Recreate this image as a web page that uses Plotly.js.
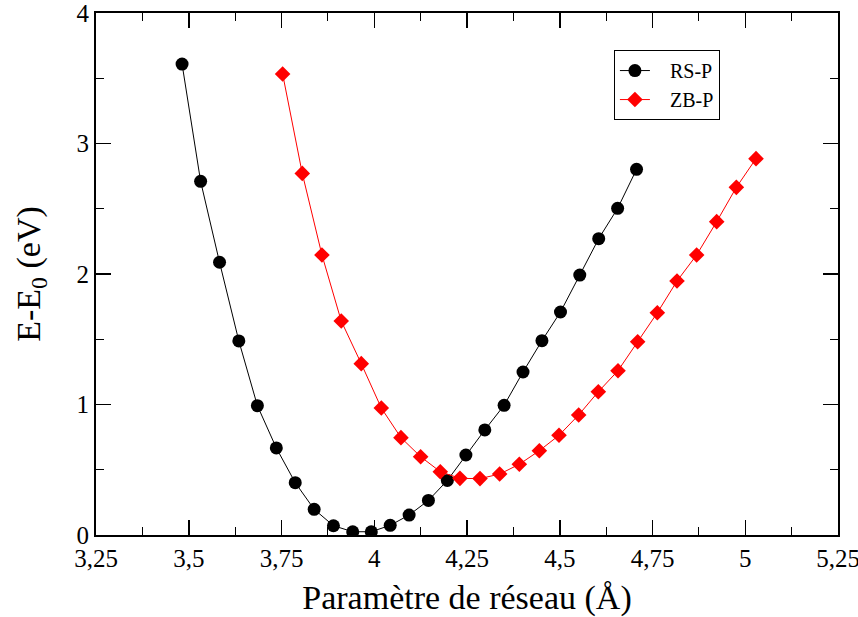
<!DOCTYPE html>
<html>
<head>
<meta charset="utf-8">
<script src="https://cdn.plot.ly/plotly-3.0.1.min.js"></script>
<style>html,body{margin:0;padding:0;background:#fff;}#chart{width:858px;height:617px;}</style>
</head>
<body>
<div id="chart"></div>
<script>
// RS-P (black circles)
const rsX = [3.482, 3.532, 3.583, 3.635, 3.685, 3.736, 3.787, 3.838, 3.890, 3.942, 3.992, 4.043, 4.094, 4.146, 4.197, 4.247, 4.298, 4.350, 4.401, 4.452, 4.502, 4.554, 4.605, 4.656, 4.707];
const rsY = [3.609, 2.710, 2.090, 1.487, 0.991, 0.667, 0.401, 0.197, 0.071, 0.025, 0.025, 0.074, 0.153, 0.265, 0.418, 0.613, 0.805, 0.994, 1.249, 1.489, 1.709, 1.992, 2.271, 2.503, 2.802];
// ZB-P (red diamonds)
const zbX = [3.753, 3.806, 3.859, 3.911, 3.965, 4.019, 4.072, 4.125, 4.178, 4.231, 4.285, 4.338, 4.391, 4.445, 4.498, 4.551, 4.604, 4.657, 4.710, 4.763, 4.816, 4.869, 4.923, 4.976, 5.029];
const zbY = [3.533, 2.771, 2.146, 1.640, 1.313, 0.973, 0.746, 0.600, 0.485, 0.434, 0.432, 0.467, 0.542, 0.646, 0.764, 0.920, 1.098, 1.259, 1.481, 1.703, 1.946, 2.146, 2.401, 2.664, 2.884];
const seriesNames = ["RS-P", "ZB-P"];
const xTickVals = [3.25, 3.5, 3.75, 4, 4.25, 4.5, 4.75, 5, 5.25];
const xTickText = ["3,25", "3,5", "3,75", "4", "4,25", "4,5", "4,75", "5", "5,25"];
const yTickVals = [0, 1, 2, 3, 4];
const yTickText = ["0", "1", "2", "3", "4"];

const font = "Liberation Serif";
const pad = "\u00a0\u00a0\u00a0";
const traces = [
  {x: rsX, y: rsY, name: pad + seriesNames[0], mode: "lines+markers", type: "scatter",
   line: {color: "black", width: 1}, marker: {symbol: "circle", size: 13, color: "black"}},
  {x: zbX, y: zbY, name: pad + seriesNames[1], mode: "lines+markers", type: "scatter",
   line: {color: "#ff0000", width: 1}, marker: {symbol: "diamond", size: 12, color: "#ff0000"}}
];
const layout = {
  width: 858, height: 617,
  margin: {l: 96, r: 20, t: 13, b: 82},
  paper_bgcolor: "white", plot_bgcolor: "white",
  font: {family: font, color: "black", size: 24},
  showlegend: true,
  legend: {x: 0.698, y: 0.929, xanchor: "left", yanchor: "top",
    bordercolor: "black", borderwidth: 1, bgcolor: "white",
    font: {family: font, size: 20, color: "black"}, itemwidth: 30, tracegroupgap: 0},
  xaxis: {
    showgrid: false, zeroline: false, showline: true, linecolor: "black", linewidth: 2,
    mirror: "ticks", ticks: "inside", ticklen: 15, tickwidth: 1.5, tickcolor: "black",
    tickfont: {family: font, size: 25, color: "black"}, ticklabeloverflow: "allow",
    range: [3.25, 5.25], tickmode: "array", tickvals: xTickVals, ticktext: xTickText,
    minor: {ticks: "inside", ticklen: 8, tickwidth: 1, tickcolor: "black", dtick: 0.125, tick0: 3.25},
    title: {text: "Paramètre de réseau (Å)", font: {family: font, size: 34, color: "black"}, standoff: 14}
  },
  yaxis: {
    showgrid: false, zeroline: false, showline: true, linecolor: "black", linewidth: 2,
    mirror: "ticks", ticks: "inside", ticklen: 15, tickwidth: 1.5, tickcolor: "black",
    tickfont: {family: font, size: 25, color: "black"}, ticklabeloverflow: "allow",
    range: [0, 4], tickmode: "array", tickvals: yTickVals, ticktext: yTickText,
    minor: {ticks: "inside", ticklen: 8, tickwidth: 1, tickcolor: "black", dtick: 0.5, tick0: 0},
    title: {text: "E-E<sub>0</sub> (eV)", font: {family: font, size: 34, color: "black"}, standoff: 26}
  }
};
Plotly.newPlot("chart", traces, layout, {displayModeBar: false, staticPlot: true});
</script>
</body>
</html>
